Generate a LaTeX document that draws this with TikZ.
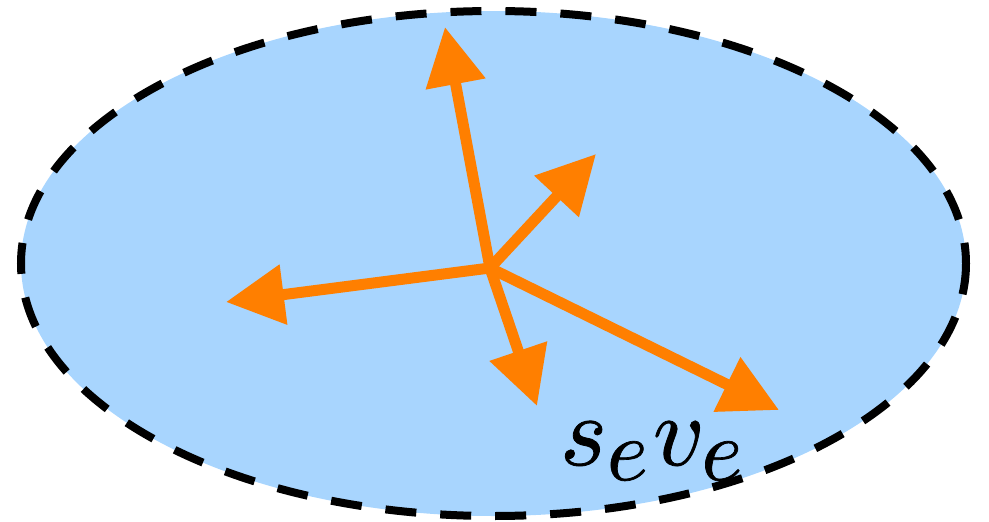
\documentclass[tikz,border=0pt]{standalone}
\usepackage{graphicx}
\usetikzlibrary{arrows.meta}
\definecolor{fillblue}{HTML}{A8D5FE}
\definecolor{arrorange}{HTML}{FF7F00}
\tikzset{
  region/.style={fill=fillblue, draw=black, line width=8pt, dash pattern=on 31pt off 24pt},
  vec/.style={draw=arrorange, line width=11pt, -{Triangle[length=58pt,width=58pt]}},
}
\newcommand{\bigsub}[1]{\scalebox{0.88}{$#1$}}
\newcommand{\heavytext}[1]{\special{pdf:literal 2 Tr 0.08 w}#1\special{pdf:literal 0 Tr}}
\begin{document}
\begin{tikzpicture}[x=1pt,y=-1pt]
\useasboundingbox (0,0) rectangle (989,522);
\draw[region] (493.5,263.5) ellipse [x radius=472.5, y radius=252.5];
\coordinate (c) at (490,268);
\coordinate (t1) at (445,27);
\coordinate (t2) at (226,302);
\coordinate (t3) at (596,154);
\coordinate (t4) at (537,406);
\coordinate (t5) at (779,410);
\draw[vec] (c) -- (t1);
\draw[vec] (c) -- (t2);
\draw[vec] (c) -- (t3);
\draw[vec] (c) -- (t4);
\draw[vec] (c) -- (t5);
\node[inner sep=0pt, scale=10, anchor=base west] (lab) at (558,465) {\heavytext{$s_{\bigsub{e}} v_{\bigsub{e}}$}};
\end{tikzpicture}
\end{document}
